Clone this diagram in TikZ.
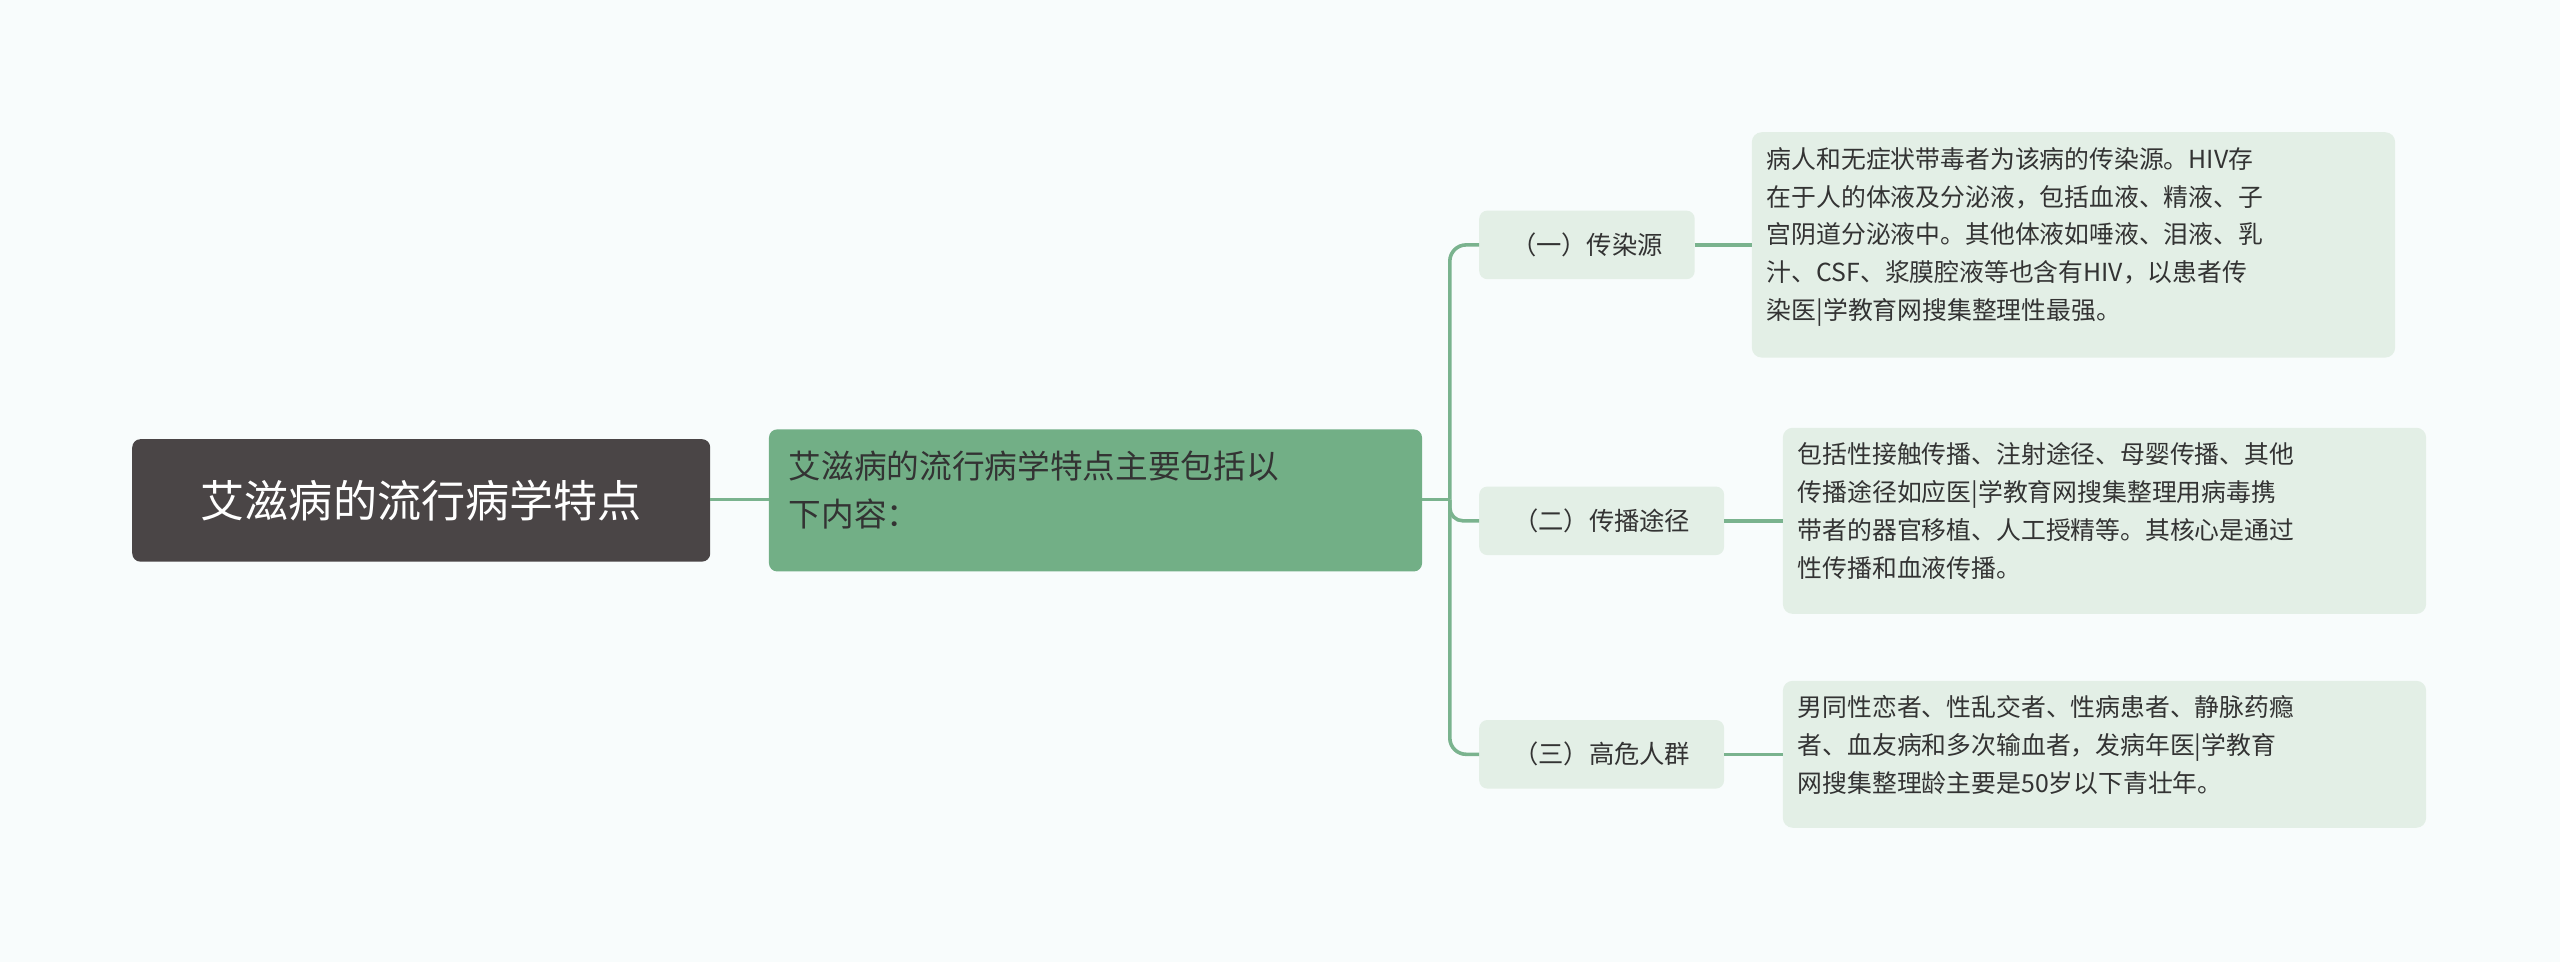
\documentclass[tikz,border=0pt]{standalone}
\usepackage{fontspec}
\setmainfont{Noto Sans CJK SC}
\begin{document}
\begin{tikzpicture}[x=1pt,y=-1pt,
  conn/.style={draw=linkc,line width=2.2pt},
  lbl/.style={fill=lblc,rounded corners=4pt,inner sep=0pt,text=textc,font=\fontsize{15.5}{20}\selectfont},
  det/.style={fill=lblc,rounded corners=5pt,inner sep=0pt,text=textc,font=\fontsize{15.2}{23.2}\selectfont},
]
\definecolor{bg}{HTML}{F8FCFC}
\definecolor{linkc}{HTML}{7AB38E}
\definecolor{lblc}{HTML}{E3EFE6}
\definecolor{textc}{HTML}{333333}
\definecolor{rootc}{HTML}{4A4546}
\definecolor{midc}{HTML}{72AF86}
\fill[bg] (0,0) rectangle (1568,589);
\useasboundingbox (0,0) rectangle (1568,589);
% root
\fill[rootc,rounded corners=5pt] (81,269) rectangle (435,344);
\node[text=white,font=\fontsize{27}{32}\selectfont,inner sep=0pt] (root) at (258,306.5) {艾滋病的流行病学特点};
\coordinate (rootR) at (435,306);
% mid
\fill[midc,rounded corners=5pt] (471,263) rectangle (871,350);
\node[anchor=north west,text=textc,font=\fontsize{20}{29}\selectfont,inner sep=0pt,align=left] (mid) at (483,276) {艾滋病的流行病学特点主要包括以\\下内容：};
\coordinate (midL) at (471,306);
\coordinate (midR) at (871,306);
\draw[conn] (rootR) -- (midL);
% labels
\fill[lblc,rounded corners=5pt] (906,129) rectangle (1038,171);
\node[text=textc,font=\fontsize{15.5}{20}\selectfont,inner sep=0pt] (l1) at (972,150) {（一）传染源};
\fill[lblc,rounded corners=5pt] (906,298) rectangle (1056,340);
\node[text=textc,font=\fontsize{15.5}{20}\selectfont,inner sep=0pt] (l2) at (981,319) {（二）传播途径};
\fill[lblc,rounded corners=5pt] (906,441) rectangle (1056,483);
\node[text=textc,font=\fontsize{15.5}{20}\selectfont,inner sep=0pt] (l3) at (981,462) {（三）高危人群};
\coordinate (a1) at (906,150);\coordinate (a2) at (906,319);\coordinate (a3) at (906,462);
\coordinate (b1) at (1038,150);\coordinate (b2) at (1056,319);\coordinate (b3) at (1056,462);
\draw[conn] (midR) -- (888,306);
\draw[conn,rounded corners=10pt] (888,306) -- (888,150) -- (a1);
\draw[conn,rounded corners=10pt] (888,306) -- (888,462) -- (a3);
\draw[conn,rounded corners=8pt] (888,306) -- (888,319) -- (a2);
% details
\fill[lblc,rounded corners=6pt] (1073,81) rectangle (1467,219);
\node[anchor=north west,align=left,text=textc,font=\fontsize{15.2}{23.2}\selectfont,inner sep=0pt] (d1) at (1082,90) {病人和无症状带毒者为该病的传染源。HIV存\\在于人的体液及分泌液，包括血液、精液、子\\宫阴道分泌液中。其他体液如唾液、泪液、乳\\汁、CSF、浆膜腔液等也含有HIV，以患者传\\染医|学教育网搜集整理性最强。};
\fill[lblc,rounded corners=6pt] (1092,262) rectangle (1486,376);
\node[anchor=north west,align=left,text=textc,font=\fontsize{15.2}{23.2}\selectfont,inner sep=0pt] (d2) at (1101,271) {包括性接触传播、注射途径、母婴传播、其他\\传播途径如应医|学教育网搜集整理用病毒携\\带者的器官移植、人工授精等。其核心是通过\\性传播和血液传播。};
\fill[lblc,rounded corners=6pt] (1092,417) rectangle (1486,507);
\node[anchor=north west,align=left,text=textc,font=\fontsize{15.2}{23.2}\selectfont,inner sep=0pt] (d3) at (1101,426) {男同性恋者、性乱交者、性病患者、静脉药瘾\\者、血友病和多次输血者，发病年医|学教育\\网搜集整理龄主要是50岁以下青壮年。};
\coordinate (c1) at (1073,150);\coordinate (c2) at (1092,319);\coordinate (c3) at (1092,462);
\draw[conn] (b1) -- (c1);
\draw[conn] (b2) -- (c2);
\draw[conn] (b3) -- (c3);
\end{tikzpicture}
\end{document}
